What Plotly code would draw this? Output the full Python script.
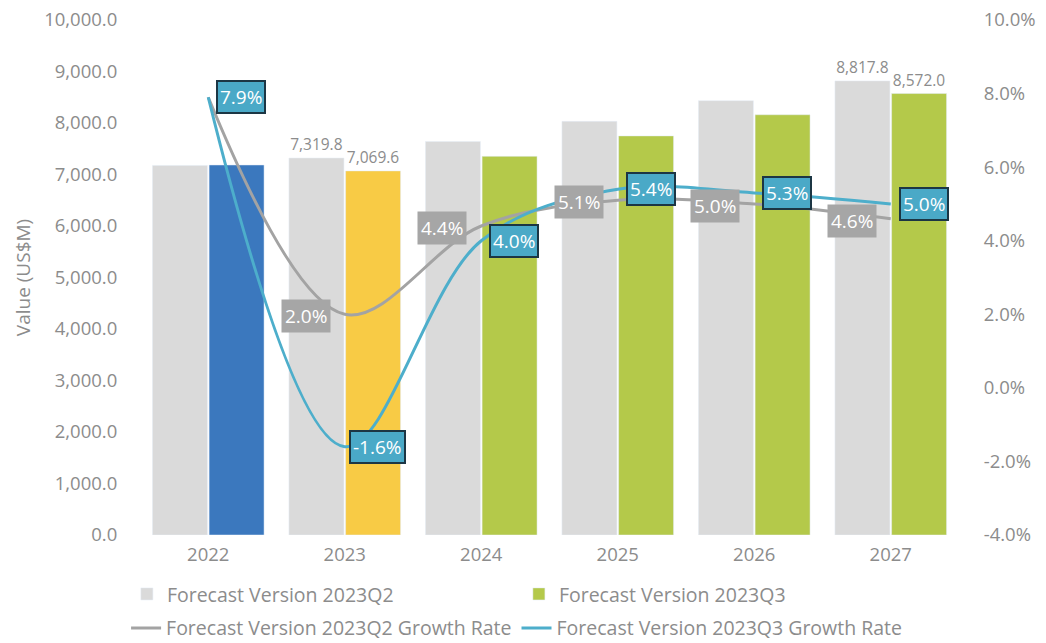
import plotly.graph_objects as go

# Market value forecasts (US$M) and year-on-year growth rates (%)
years = ["2022", "2023", "2024", "2025", "2026", "2027"]
value_q2 = [7176.3, 7319.8, 7641.9, 8031.6, 8433.2, 8817.8]
value_q3 = [7184.6, 7069.6, 7352.4, 7749.4, 8160.1, 8572.0]
growth_q2 = [7.9, 2.0, 4.4, 5.1, 5.0, 4.6]
growth_q3 = [7.9, -1.6, 4.0, 5.4, 5.3, 5.0]

# Right-axis ticks (%)
rate_ticks = [-4, -2, 0, 2, 4, 6, 8, 10]

# Which points carry a printed value
value_label_years = ["2023", "2027"]
growth_q2_label_years = ["2023", "2024", "2025", "2026", "2027"]
growth_q3_label_years = years

GRAY_BAR = "#DADADA"
Q3_HIGHLIGHT = {"2022": "#3B78BE", "2023": "#F8CB45"}
GREEN = "#B4C94A"
GRAY_LINE = "#A3A3A3"
BLUE_LINE = "#4DAECB"
TEXT_GRAY = "#8C8C8C"
FONT = "Open Sans"
CLEAR = "rgba(0,0,0,0)"
TICK_SIZE = 18.5
LEGEND_SIZE = 19.5


def bar_text(xs, vals):
    return [f"{v:,.1f}" if x in value_label_years else "" for x, v in zip(xs, vals)]


bar_font = dict(color=TEXT_GRAY, size=15.5, family=FONT)

fig = go.Figure()

fig.add_trace(go.Bar(
    x=years, y=value_q2, name="Forecast Version 2023Q2",
    marker_color=GRAY_BAR, legend="legend", offsetgroup="q2",
    text=bar_text(years, value_q2),
    textposition="outside", cliponaxis=False, textfont=bar_font,
))

# 2023Q3 bars: green for the forecast years, highlighted colours for 2022/2023
q3_green = [(y, v) for y, v in zip(years, value_q3) if y not in Q3_HIGHLIGHT]
q3_hi = [(y, v) for y, v in zip(years, value_q3) if y in Q3_HIGHLIGHT]

fig.add_trace(go.Bar(
    x=[y for y, _ in q3_green], y=[v for _, v in q3_green],
    name="Forecast Version 2023Q3", marker_color=GREEN,
    legend="legend", legendgroup="q3", offsetgroup="q3",
    text=bar_text([y for y, _ in q3_green], [v for _, v in q3_green]),
    textposition="outside", cliponaxis=False, textfont=bar_font,
))
fig.add_trace(go.Bar(
    x=[y for y, _ in q3_hi], y=[v for _, v in q3_hi],
    name="Forecast Version 2023Q3",
    marker_color=[Q3_HIGHLIGHT[y] for y, _ in q3_hi],
    legendgroup="q3", showlegend=False, offsetgroup="q3",
    text=bar_text([y for y, _ in q3_hi], [v for _, v in q3_hi]),
    textposition="outside", cliponaxis=False, textfont=bar_font,
))

fig.add_trace(go.Scatter(
    x=years, y=growth_q2, yaxis="y2", mode="lines",
    name="Forecast Version 2023Q2 Growth Rate", legend="legend2",
    line=dict(color=GRAY_LINE, width=3, shape="spline", smoothing=1.0),
))
fig.add_trace(go.Scatter(
    x=years, y=growth_q3, yaxis="y2", mode="lines",
    name="Forecast Version 2023Q3 Growth Rate", legend="legend2",
    line=dict(color=BLUE_LINE, width=3, shape="spline", smoothing=1.0),
))

# Growth labels; x is the category index on the year axis
annotations = []
for i, (y, g) in enumerate(zip(years, growth_q2)):
    if y in growth_q2_label_years:
        annotations.append(dict(
            x=i, y=g, xref="x", yref="y2", text=f"{g:.1f}%", showarrow=False,
            xshift=-39, yshift=-2, bgcolor="#A6A6A6", borderpad=3,
            font=dict(color="white", size=19, family=FONT),
        ))
for i, (y, g) in enumerate(zip(years, growth_q3)):
    if y in growth_q3_label_years:
        annotations.append(dict(
            x=i, y=g, xref="x", yref="y2", text=f"{g:.1f}%", showarrow=False,
            xshift=33, yshift=0, bgcolor="#4AA9C7", bordercolor="#1C3644",
            borderwidth=2, borderpad=2,
            font=dict(color="white", size=19, family=FONT),
        ))

fig.update_layout(
    width=1046, height=643,
    margin=dict(l=140, r=87, t=20, b=108, autoexpand=False),
    paper_bgcolor="white", plot_bgcolor="white",
    barmode="group", bargap=0.17, bargroupgap=0.03,
    font=dict(family=FONT, color=TEXT_GRAY, size=TICK_SIZE),
    annotations=annotations,
    xaxis=dict(
        type="category", range=[-0.5, len(years) - 0.5],
        showgrid=False, showline=False, zeroline=False,
        ticks="outside", ticklen=3, tickcolor=CLEAR,
        tickfont=dict(size=TICK_SIZE, color=TEXT_GRAY),
    ),
    yaxis=dict(
        range=[0, 10000], dtick=1000, tickformat=",.1f",
        showgrid=False, zeroline=False, showline=False,
        ticks="outside", ticklen=18, tickcolor=CLEAR,
        tickfont=dict(size=TICK_SIZE, color=TEXT_GRAY),
        title=dict(text="Value (US$M)", font=dict(size=19, color=TEXT_GRAY), standoff=8),
    ),
    yaxis2=dict(
        overlaying="y", side="right", range=[-4, 10],
        tickmode="array", tickvals=rate_ticks,
        ticktext=[f"{t:.1f}%" for t in rate_ticks],
        showgrid=False, zeroline=False, showline=False,
        ticks="outside", ticklen=20, tickcolor=CLEAR,
        tickfont=dict(size=TICK_SIZE, color=TEXT_GRAY),
    ),
    legend=dict(
        orientation="h", x=-0.016, xanchor="left", y=-0.115, yanchor="middle",
        entrywidth=347, traceorder="normal",
        font=dict(size=LEGEND_SIZE, color=TEXT_GRAY), bgcolor=CLEAR,
    ),
    legend2=dict(
        orientation="h", x=-0.017, xanchor="left", y=-0.181, yanchor="middle",
        font=dict(size=LEGEND_SIZE, color=TEXT_GRAY), bgcolor=CLEAR,
    ),
)

fig.write_html("out.html")
